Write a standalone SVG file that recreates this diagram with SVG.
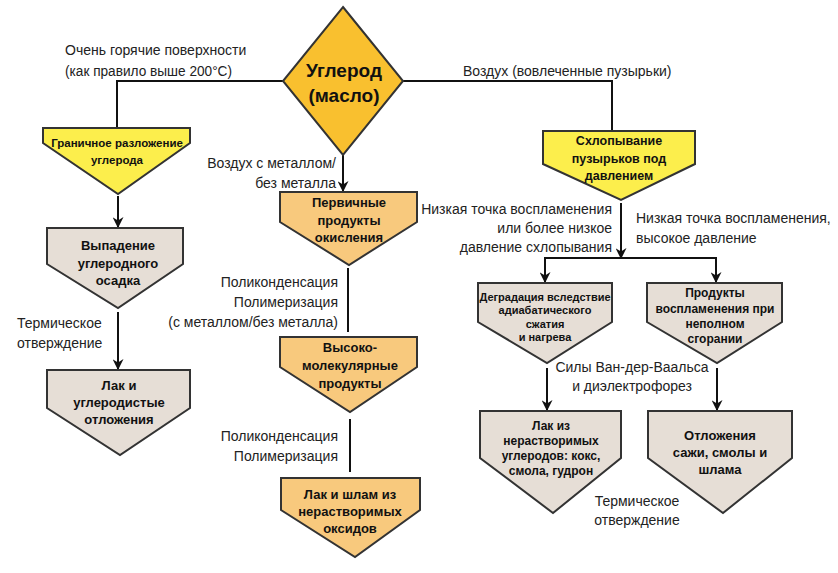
<svg xmlns="http://www.w3.org/2000/svg" width="838" height="573" viewBox="0 0 838 573">
<defs>
<style>
.lbl{font-family:"Liberation Sans",Arial,sans-serif;font-size:14px;fill:#222}
.nt{font-family:"Liberation Sans",Arial,sans-serif;font-size:12px;font-weight:bold;fill:#111;text-anchor:middle}
.sm{font-size:11px}
.md{font-size:13px}
.node{stroke:#333;stroke-width:2;stroke-linejoin:miter}
.yel{fill:#FCEE4C}
.org{fill:#F8C97D}
.gry{fill:#E6DED6}
.con{fill:none;stroke:#111;stroke-width:2}
</style>
<marker id="arr" viewBox="0 0 10 10" refX="9" refY="5" markerWidth="5.5" markerHeight="5.5" orient="auto" markerUnits="strokeWidth">
<path d="M0,0 L10,5 L0,10 L3,5 Z" fill="#111"/>
</marker>
</defs>
<rect width="838" height="573" fill="#fff"/>

<g id="connectors">
<polyline class="con" points="283,81 117,81 117,127"/>
<polyline class="con" points="403,81 612,81 612,130"/>
<line class="con" x1="343" y1="155" x2="343" y2="191" marker-end="url(#arr)"/>
<line class="con" x1="118" y1="196" x2="118" y2="227" marker-end="url(#arr)"/>
<line class="con" x1="118" y1="312" x2="118" y2="369" marker-end="url(#arr)"/>
<line class="con" x1="348" y1="268" x2="348" y2="332"/>
<line class="con" x1="350" y1="419" x2="350" y2="472"/>
<line class="con" x1="621" y1="203" x2="621" y2="258" marker-end="url(#arr)"/>
<polyline class="con" points="545,270 545,258 716,258 716,270"/>
<line class="con" x1="545" y1="259" x2="545" y2="282" marker-end="url(#arr)"/>
<line class="con" x1="716" y1="259" x2="716" y2="282" marker-end="url(#arr)"/>
<line class="con" x1="547" y1="368" x2="547" y2="410" marker-end="url(#arr)"/>
<line class="con" x1="717" y1="368" x2="717" y2="410" marker-end="url(#arr)"/>
</g>

<g id="labels">
<text class="lbl" x="65" y="55">Очень горячие поверхности</text>
<text class="lbl" x="65" y="76" textLength="167" lengthAdjust="spacingAndGlyphs">(как правило выше 200°C)</text>
<text class="lbl" x="463" y="76">Воздух (вовлеченные пузырьки)</text>
<text class="lbl" x="336" y="168" text-anchor="end">Воздух с металлом/</text>
<text class="lbl" x="336" y="188" text-anchor="end">без металла</text>
<text class="lbl" x="338" y="287" text-anchor="end">Поликонденсация</text>
<text class="lbl" x="338" y="307" text-anchor="end">Полимеризация</text>
<text class="lbl" x="338" y="327" text-anchor="end">(с металлом/без металла)</text>
<text class="lbl" x="17" y="328">Термическое</text>
<text class="lbl" x="17" y="348">отверждение</text>
<text class="lbl" x="338" y="441" text-anchor="end">Поликонденсация</text>
<text class="lbl" x="338" y="461" text-anchor="end">Полимеризация</text>
<text class="lbl" x="612" y="214" text-anchor="end">Низкая точка воспламенения</text>
<text class="lbl" x="612" y="233" text-anchor="end">или более низкое</text>
<text class="lbl" x="612" y="252" text-anchor="end">давление схлопывания</text>
<text class="lbl" x="636" y="223">Низкая точка воспламенения,</text>
<text class="lbl" x="636" y="243">высокое давление</text>
<text class="lbl" x="632" y="372" text-anchor="middle">Силы Ван-дер-Ваальса</text>
<text class="lbl" x="632" y="391" text-anchor="middle">и диэлектрофорез</text>
<text class="lbl" x="637" y="506" text-anchor="middle">Термическое</text>
<text class="lbl" x="637" y="525" text-anchor="middle">отверждение</text>
</g>

<g id="n-carbon">
<polygon class="node" fill="#F9C02F" points="343,7 403,81 343,155 283,81"/>
<text class="nt" x="344" y="77" style="font-size:19px">Углерод</text>
<text class="nt" x="344" y="102" style="font-size:19px">(масло)</text>
</g>

<g id="n-boundary">
<polygon class="node yel" points="43,128 190,128 190,143 118,194 43,143"/>
<text class="nt" x="117" y="147" style="font-size:11.5px">Граничное разложение</text>
<text class="nt" x="117" y="164" style="font-size:11.5px">углерода</text>
</g>

<g id="n-collapse">
<polygon class="node yel" points="543,131 695,131 695,164 621,200 543,164"/>
<text class="nt" x="619" y="145" style="font-size:12.5px">Схлопывание</text>
<text class="nt" x="619" y="163" style="font-size:12.5px">пузырьков под</text>
<text class="nt" x="619" y="180" style="font-size:12.5px">давлением</text>
</g>

<g id="n-primary">
<polygon class="node org" points="280,192 417,192 417,222 349,265 280,222"/>
<text class="nt md" x="349" y="207">Первичные</text>
<text class="nt md" x="349" y="225">продукты</text>
<text class="nt md" x="349" y="242">окисления</text>
</g>

<g id="n-highmol">
<polygon class="node org" points="280,337 417,337 417,367 350,412 280,367"/>
<text class="nt md" x="350" y="352">Высоко-</text>
<text class="nt md" x="350" y="370">молекулярные</text>
<text class="nt md" x="350" y="388">продукты</text>
</g>

<g id="n-sludge">
<polygon class="node org" points="281,478 420,478 420,510 355,557 281,510"/>
<text class="nt md" x="350" y="499">Лак и шлам из</text>
<text class="nt md" x="350" y="516">нерастворимых</text>
<text class="nt md" x="350" y="533">оксидов</text>
</g>

<g id="n-deposit">
<polygon class="node gry" points="47,228 183,228 183,264 118,308 47,264"/>
<text class="nt md" x="118" y="250">Выпадение</text>
<text class="nt md" x="118" y="268">углеродного</text>
<text class="nt md" x="118" y="285">осадка</text>
</g>

<g id="n-varnish">
<polygon class="node gry" points="47,370 190,370 190,408 120,455 47,408"/>
<text class="nt md" x="119" y="390">Лак и</text>
<text class="nt md" x="119" y="407">углеродистые</text>
<text class="nt md" x="119" y="424">отложения</text>
</g>

<g id="n-degradation">
<polygon class="node gry" points="478,283 612,283 612,322 547,363 478,322"/>
<text class="nt sm" x="545" y="301">Деградация вследствие</text>
<text class="nt sm" x="545" y="314">адиабатического</text>
<text class="nt sm" x="545" y="328">сжатия</text>
<text class="nt sm" x="545" y="341">и нагрева</text>
</g>

<g id="n-ignition">
<polygon class="node gry" points="647,283 782,283 782,322 717,363 647,322"/>
<text class="nt" x="715" y="297">Продукты</text>
<text class="nt" x="715" y="313">воспламенения при</text>
<text class="nt" x="715" y="328">неполном</text>
<text class="nt" x="715" y="343">сгорании</text>
</g>

<g id="n-coke">
<polygon class="node gry" points="480,411 621,411 621,458 553,513 480,458"/>
<text class="nt" x="551" y="430">Лак из</text>
<text class="nt" x="551" y="445">нерастворимых</text>
<text class="nt" x="551" y="460">углеродов: кокс,</text>
<text class="nt" x="551" y="475">смола, гудрон</text>
</g>

<g id="n-soot">
<polygon class="node gry" points="648,411 792,411 792,458 723,513 648,458"/>
<text class="nt md" x="720" y="440">Отложения</text>
<text class="nt md" x="720" y="457">сажи, смолы и</text>
<text class="nt md" x="720" y="474">шлама</text>
</g>
</svg>
